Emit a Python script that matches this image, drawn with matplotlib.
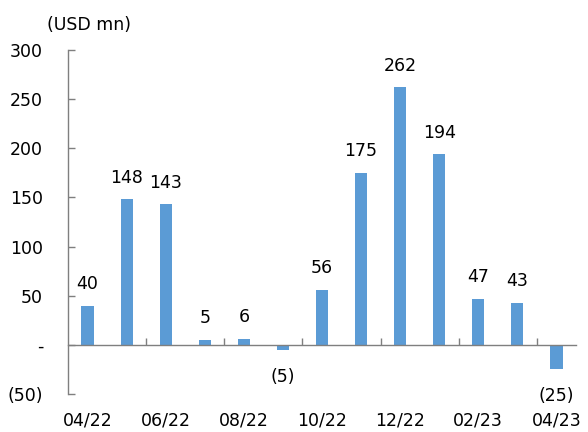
import matplotlib
matplotlib.use("Agg")
import matplotlib.pyplot as plt
from matplotlib.ticker import FixedLocator

months = ["04/22", "05/22", "06/22", "07/22", "08/22", "09/22", "10/22",
          "11/22", "12/22", "01/23", "02/23", "03/23", "04/23"]
values = [40, 148, 143, 5, 6, -5, 56, 175, 262, 194, 47, 43, -25]
y_ticks = [-50, 0, 50, 100, 150, 200, 250, 300]
y_tick_labels = ["(50)", "-", "50", "100", "150", "200", "250", "300"]

bar_color = "#5B9BD5"
axis_color = "#7f7f7f"
font_size = 12.5

plt.rcParams["font.family"] = ["DejaVu Sans"]

fig = plt.figure(figsize=(5.88, 4.32), dpi=100)
ax = fig.add_axes([68 / 588, 38 / 432, 508 / 588, 344 / 432])

x = list(range(len(months)))
ax.bar(x, values, width=0.31, color=bar_color, zorder=2)

def fmt(v):
    return f"({abs(v)})" if v < 0 else f"{v}"

for xi, v in zip(x, values):
    if v >= 0:
        ax.annotate(fmt(v), (xi, v), xytext=(0, 9), textcoords="offset points",
                    ha="center", va="bottom", fontsize=font_size)
    else:
        ax.annotate(fmt(v), (xi, v), xytext=(0, -13), textcoords="offset points",
                    ha="center", va="top", fontsize=font_size)

ax.set_xlim(-0.5, len(months) - 0.5)
ax.set_ylim(-50, 300)

# y axis
ax.set_yticks(y_ticks)
ax.set_yticklabels(y_tick_labels, fontsize=font_size)
ax.tick_params(axis="y", direction="in", length=5, width=1, color=axis_color, pad=18)

# category axis sits on the zero line; labels stay at the bottom
ax.spines["bottom"].set_position(("data", 0))
ax.xaxis.set_major_locator(FixedLocator(x[::2]))
ax.set_xticklabels(months[::2], fontsize=font_size)
ax.xaxis.set_minor_locator(FixedLocator([i + 1.5 for i in range(0, len(months) - 1, 2)]))
ax.tick_params(axis="x", which="major", length=0, pad=48)
ax.tick_params(axis="x", which="minor", direction="in", length=5, width=1, color=axis_color)

for side in ("top", "right"):
    ax.spines[side].set_visible(False)
for side in ("left", "bottom"):
    ax.spines[side].set_color(axis_color)
    ax.spines[side].set_linewidth(1)

fig.text(47 / 588, 1 - 25 / 432, "(USD mn)", fontsize=font_size, ha="left", va="center")

fig.savefig("out.png", dpi=100)
